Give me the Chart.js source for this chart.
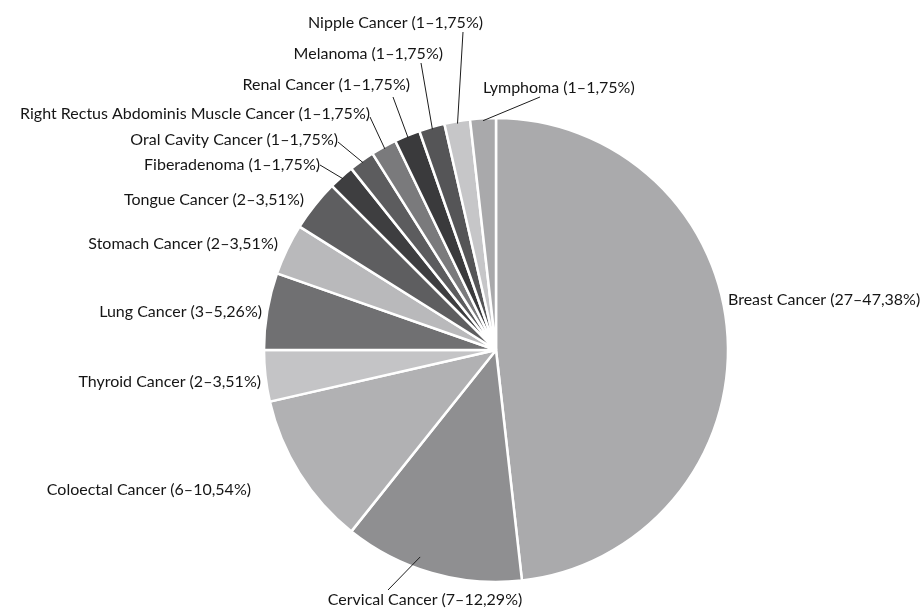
<!DOCTYPE html>
<html>
<head>
<meta charset="utf-8">
<script src="https://cdn.jsdelivr.net/npm/chart.js@4.4.1/dist/chart.umd.min.js"></script>
<style>
  body { margin: 0; background: #fff; }
  #wrap { width: 924px; height: 613px; }
</style>
</head>
<body>
<div id="wrap"><canvas id="pie" width="924" height="613"></canvas></div>
<script>
// slices, clockwise from 12 o'clock
const categories = [
  'Breast Cancer', 'Cervical Cancer', 'Coloectal Cancer', 'Thyroid Cancer',
  'Lung Cancer', 'Stomach Cancer', 'Tongue Cancer', 'Fiberadenoma',
  'Oral Cavity Cancer', 'Right Rectus Abdominis Muscle Cancer', 'Renal Cancer',
  'Melanoma', 'Nipple Cancer', 'Lymphoma'
];
const counts = [27, 7, 6, 2, 3, 2, 2, 1, 1, 1, 1, 1, 1, 1];
const percentText = ['47,38', '12,29', '10,54', '3,51', '5,26', '3,51', '3,51',
  '1,75', '1,75', '1,75', '1,75', '1,75', '1,75', '1,75'];

const sliceColors = ['#aaaaac', '#8f8f91', '#b1b1b3', '#c4c4c6', '#707072', '#b9b9bb',
  '#5e5e60', '#3e3e40', '#5c5c5e', '#7a7a7c', '#3a3a3c', '#555557', '#c6c6c8', '#a9a9ab'];

// where each label sits; lx/ly = start of the leader line (if any)
const labelSpots = [
  { x: 728, y: 300, align: 'left' },
  { x: 425, y: 600, align: 'center', lx: 388, ly: 590, at: 0.59, r: 0.95 },
  { x: 251, y: 490, align: 'right' },
  { x: 261, y: 382, align: 'right' },
  { x: 262, y: 312, align: 'right' },
  { x: 278, y: 244, align: 'right' },
  { x: 304, y: 200, align: 'right' },
  { x: 320, y: 165, align: 'right', lx: 320, ly: 165 },
  { x: 338, y: 140, align: 'right', lx: 338, ly: 142 },
  { x: 370, y: 114, align: 'right', lx: 370, ly: 117 },
  { x: 410, y: 85, align: 'right', lx: 393, ly: 97 },
  { x: 443, y: 54, align: 'right', lx: 421, ly: 63 },
  { x: 483, y: 23, align: 'right', lx: 463, ly: 32 },
  { x: 483, y: 88, align: 'left', lx: 540, ly: 97 }
];

const sliceLabels = {
  id: 'sliceLabels',
  afterDatasetsDraw(chart) {
    const ctx = chart.ctx;
    const arcs = chart.getDatasetMeta(0).data;
    ctx.save();
    ctx.font = '16px Lato';
    ctx.fillStyle = '#151515';
    ctx.strokeStyle = '#1c1c1c';
    ctx.lineWidth = 1;
    ctx.textBaseline = 'middle';
    arcs.forEach((arc, i) => {
      const L = labelSpots[i];
      if (L.lx !== undefined) {
        const p = arc.getProps(['x', 'y', 'startAngle', 'endAngle', 'outerRadius'], true);
        const a = p.startAngle + (p.endAngle - p.startAngle) * (L.at ?? 0.5);
        const r = p.outerRadius * (L.r ?? 0.99);
        ctx.beginPath();
        ctx.moveTo(L.lx, L.ly);
        ctx.lineTo(p.x + Math.cos(a) * r, p.y + Math.sin(a) * r);
        ctx.stroke();
      }
      ctx.textAlign = L.align;
      ctx.fillText(`${categories[i]} (${counts[i]}–${percentText[i]}%)`, L.x, L.y);
    });
    ctx.restore();
  }
};

new Chart(document.getElementById('pie'), {
  type: 'pie',
  data: {
    labels: categories,
    datasets: [{
      data: counts,
      backgroundColor: sliceColors,
      borderColor: '#ffffff',
      borderWidth: 2.5,
      radius: 232
    }]
  },
  options: {
    responsive: false,
    animation: false,
    devicePixelRatio: 1,
    layout: { padding: { left: 68, right: 0, top: 87, bottom: 0 } },
    plugins: { legend: { display: false }, tooltip: { enabled: false } }
  },
  plugins: [sliceLabels]
});
</script>
</body>
</html>
